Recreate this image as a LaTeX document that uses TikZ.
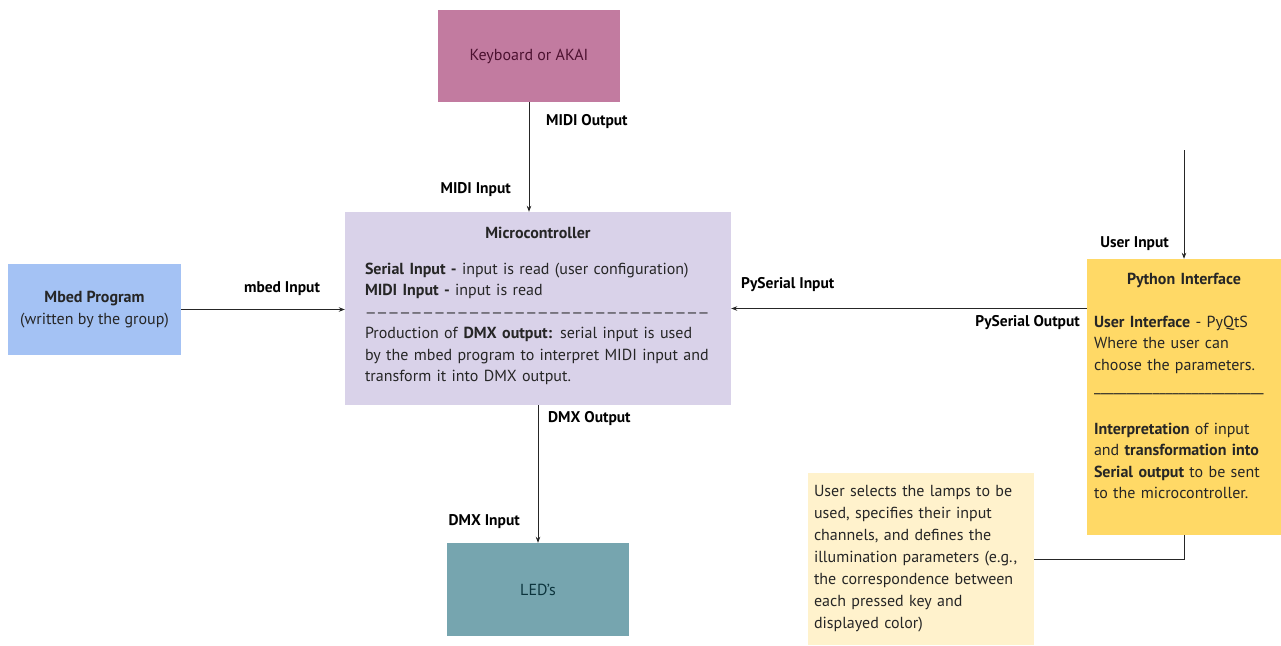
\documentclass[tikz,border=0pt]{standalone}
\usepackage{fontspec}
\setmainfont{PT Sans}
\usepackage{xcolor}
\usepackage{tikz}
\usetikzlibrary{arrows.meta,positioning}

\definecolor{keybfill}{HTML}{C27BA0}
\definecolor{keybtext}{HTML}{4C1130}
\definecolor{microfill}{HTML}{D9D2E9}
\definecolor{mbedfill}{HTML}{A4C2F4}
\definecolor{ledfill}{HTML}{76A5AF}
\definecolor{ledtext}{HTML}{0C343D}
\definecolor{pyfill}{HTML}{FFD966}
\definecolor{notefill}{HTML}{FFF2CC}

\begin{document}
\begin{tikzpicture}[
    x=1pt, y=-1pt,
    >={Stealth[length=6pt,width=4.5pt]},
    block/.style={rectangle, draw=none, align=center, text=black!85, font=\fontsize{16}{21.5}\selectfont},
    portlbl/.style={font=\fontsize{15.5}{18}\selectfont\bfseries, inner sep=0pt},
    link/.style={->, line width=0.8pt, draw=black!85}
]

\useasboundingbox (0,0) rectangle (1281,645);

% Devices
\node[block, fill=keybfill, text=keybtext, minimum width=182, minimum height=92] (keyb) at (529,56) {Keyboard or AKAI};
\node[block, fill=ledfill, text=ledtext, minimum width=182, minimum height=93] (led) at (538,589.5) {LED’s};
\node[block, fill=mbedfill, minimum width=173, minimum height=91] (mbed) at (94.5,309.5) {\textbf{Mbed Program}\\(written by the group)};

% Microcontroller
\node[block, fill=microfill, align=left, text width=346, inner xsep=20, minimum height=193] (micro) at (538,308.5) {%
\makebox[346pt]{\bfseries Microcontroller}\\[14.5pt]
\textbf{Serial Input -} input is read (user configuration)\\
\textbf{MIDI Input -} input is read\\
{\fontsize{14}{21.5}\selectfont ——————————————————————————————}\\
Production of \textbf{DMX output:} serial input is used\\
by the mbed program to interpret MIDI input and\\
transform it into DMX output.\\[-13pt]\mbox{}};

% Python Interface
\node[block, fill=pyfill, align=left, text width=180, inner xsep=7, minimum height=276] (py) at (1184,397) {%
\makebox[180pt]{\bfseries Python Interface}\\[21pt]
\textbf{User Interface} - PyQtS\\
Where the user can\\
choose the parameters.\\
\_\_\_\_\_\_\_\_\_\_\_\_\_\_\_\_\_\_\_\_\_\_\_\_\_\_\\[21pt]
\textbf{Interpretation} of input\\
and \textbf{transformation into}\\
\textbf{Serial output} to be sent\\
to the microcontroller.\\[0pt]\mbox{}};

% Note
\node[block, fill=notefill, align=left, text width=214, inner xsep=6, minimum height=172,
      font=\fontsize{16}{22}\selectfont] (note) at (921,559) {%
User selects the lamps to be\\
used, specifies their input\\
channels, and defines the\\
illumination parameters (e.g.,\\
the correspondence between\\
each pressed key and\\
displayed color)};

% Port labels
\node[portlbl, anchor=west] (midiout) at (546,122) {MIDI Output};
\node[portlbl, anchor=east] (midiin) at (511,190) {MIDI Input};
\node[portlbl] (mbedin) at (282,289) {mbed Input};
\node[portlbl, anchor=west] (pyserin) at (741,285) {PySerial Input};
\node[portlbl, anchor=east] (pyserout) at (1080,323) {PySerial Output};
\node[portlbl, anchor=east] (userin) at (1169,244) {User Input};
\node[portlbl, anchor=west] (dmxout) at (548,419) {DMX Output};
\node[portlbl, anchor=east] (dmxin) at (520,522) {DMX Input};

\coordinate (usrc) at (1184,150);

% Connections
\draw[link] (keyb) -- (keyb |- micro.north);
\draw[link] (mbed) -- (mbed -| micro.west);
\draw[link] (py.west |- micro) -- (micro);
\draw[link] (usrc) -- (py);
\draw[link] (micro.south -| led) -- (led);
\draw[line width=0.8pt, draw=black!85] (py.south) |- (note.east);

\end{tikzpicture}
\end{document}
